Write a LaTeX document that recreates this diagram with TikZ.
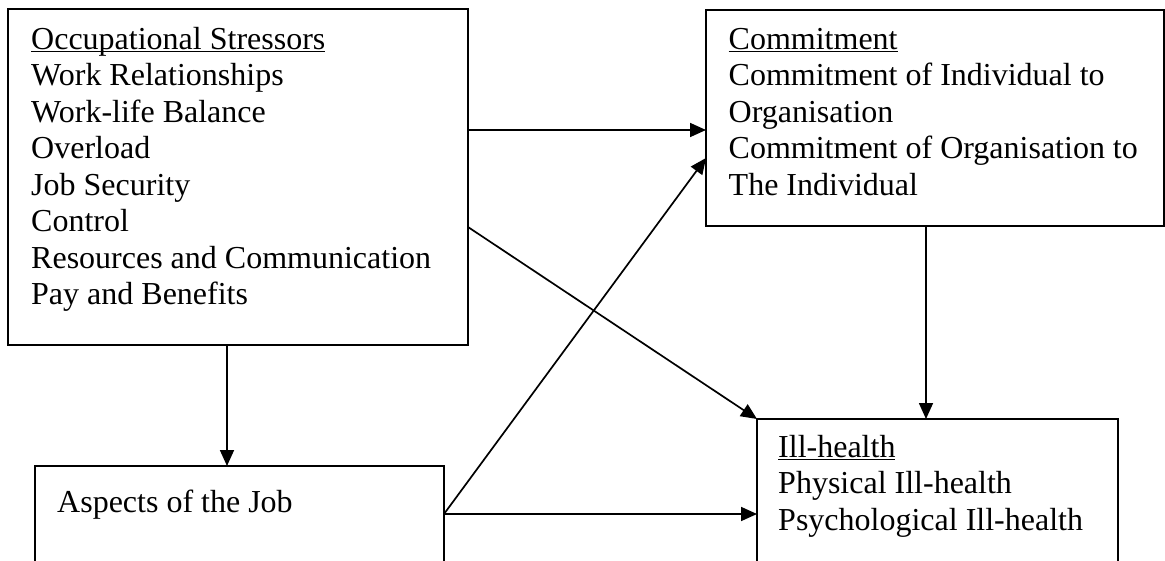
\documentclass[tikz,border=0pt]{standalone}
\usepackage{fontspec}
\setmainfont{Liberation Serif}
\usetikzlibrary{arrows.meta}
\newcommand\myul[1]{\leavevmode\setbox0=\hbox{#1}\rlap{\rule[-3pt]{\wd0}{1.2pt}}\box0}
\begin{document}
\begin{tikzpicture}[x=1pt,y=-1pt,
  box/.style={draw, line width=1.7pt, inner sep=0pt, outer sep=0pt, anchor=north west},
  txt/.style={anchor=north west, inner sep=0pt, align=left, font=\fontsize{32}{36.5}\selectfont},
  arr/.style={line width=1.7pt, -{Triangle[length=16pt,width=14pt]}}]
\path[use as bounding box] (0,0) rectangle (1165,560);
\clip (0,0) rectangle (1165,560);
\fill[white] (0,0) rectangle (1165,560);
% boxes
\node[box, minimum width=460pt, minimum height=336pt] (stress) at (8,9) {};
\node[box, minimum width=458pt, minimum height=216pt] (commit) at (706,10) {};
\node[box, minimum width=361pt, minimum height=200pt] (ill) at (757,419) {};
\node[box, minimum width=409pt, minimum height=150pt] (aspects) at (35,466) {};
% texts
\node[txt] (stresst) at (31,23) {\rule{0pt}{26pt}\myul{Occupational Stressors}\\Work Relationships\\Work-life Balance\\Overload\\Job Security\\Control\\Resources and Communication\\Pay and Benefits};
\node[txt] (committ) at (728.5,23) {\rule{0pt}{26pt}\myul{Commitment}\\Commitment of Individual to\\Organisation\\Commitment of Organisation to\\The Individual};
\node[txt] (illt) at (778,431) {\rule{0pt}{26pt}\myul{Ill-health}\\Physical Ill-health\\Psychological Ill-health};
\node[txt] (aspectst) at (57,486) {\rule{0pt}{26pt}Aspects of the Job};
% connectors
\draw[arr] ([yshift=-121pt]stress.north east) -- ([yshift=-120pt]commit.north west);
\draw[arr] ([yshift=-218pt]stress.north east) -- (ill.north west);
\draw[arr] ([xshift=-11pt]stress.south) -- ([xshift=-11pt]stress.south |- aspects.north);
\draw[arr] ([yshift=-48pt]aspects.north east) -- ([yshift=-148pt]commit.north west);
\draw[arr] ([yshift=-48pt]aspects.north east) -- ([yshift=-95pt]ill.north west);
\draw[arr] ([xshift=-9pt]commit.south) -- ([xshift=-9pt]commit.south |- ill.north);
\end{tikzpicture}
\end{document}
